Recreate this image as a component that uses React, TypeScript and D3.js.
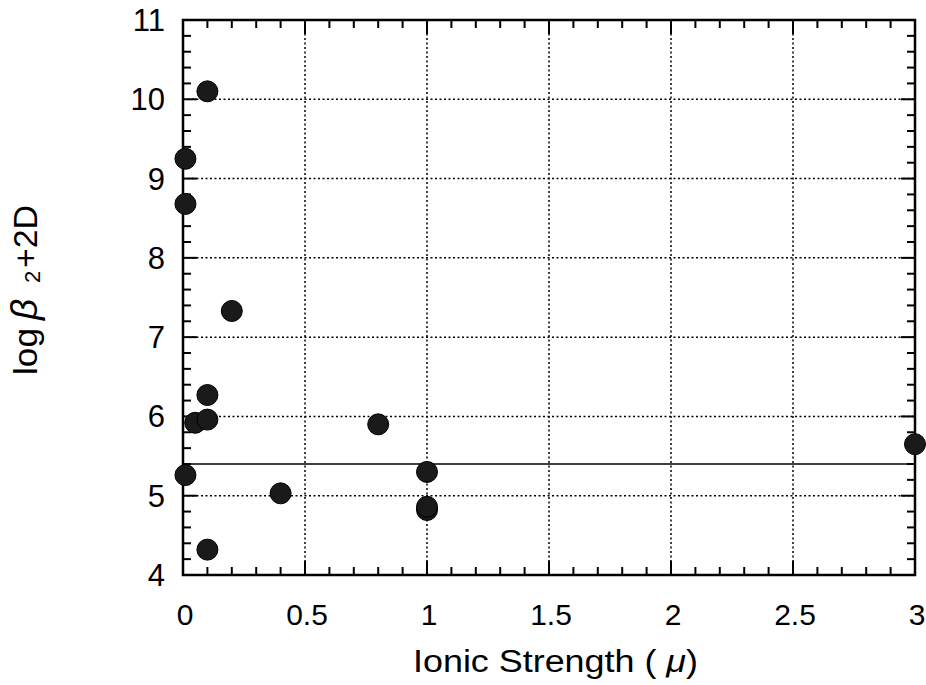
import React from "react";
import * as d3 from "d3";

const ionicStrength = [0.1, 0.01, 0.01, 0.2, 0.1, 0.05, 0.1, 0.8, 0.01, 0.4, 1.0, 1.0, 1.0, 0.1, 3.0];
const logBeta = [10.1, 9.25, 8.68, 7.33, 6.27, 5.92, 5.96, 5.9, 5.26, 5.03, 5.3, 4.82, 4.86, 4.32, 5.65];
const refLine = [5.4];
const xTicks = [0, 0.5, 1, 1.5, 2, 2.5, 3];
const yTicks = [4, 5, 6, 7, 8, 9, 10, 11];
const xTickLabels = ["0", "0.5", "1", "1.5", "2", "2.5", "3"];
const yTickLabels = ["4", "5", "6", "7", "8", "9", "10", "11"];

export default function App() {
  const W = 926, H = 685;
  const L = 183, R = 915, T = 20, B = 575;
  const x = d3.scaleLinear().domain([0, 3]).range([L, R]);
  const y = d3.scaleLinear().domain([4, 11]).range([B, T]);
  const xMinor = d3.range(0, 3.0001, 0.1);
  const yMinor = d3.range(4, 11.0001, 0.2);
  const font = "'Liberation Sans', Arial, Helvetica, sans-serif";
  const majorLen = 14, minorLen = 8;

  return (
    <svg width={W} height={H} style={{ position: "absolute", left: 0, top: 0, background: "#fff" }}>
      {/* grid */}
      {xTicks.slice(1, -1).map((t) => (
        <line key={"gx" + t} x1={x(t)} x2={x(t)} y1={T} y2={B} stroke="#000" strokeWidth={1.5} strokeDasharray="2,2.5" />
      ))}
      {yTicks.slice(1, -1).map((t) => (
        <line key={"gy" + t} x1={L} x2={R} y1={y(t)} y2={y(t)} stroke="#000" strokeWidth={1.5} strokeDasharray="2,2.5" />
      ))}
      {/* ticks */}
      {xMinor.map((t, i) => {
        const len = i % 5 === 0 ? majorLen : minorLen;
        return (
          <g key={"xm" + i}>
            <line x1={x(t)} x2={x(t)} y1={B} y2={B - len} stroke="#000" strokeWidth={2} />
            <line x1={x(t)} x2={x(t)} y1={T} y2={T + len} stroke="#000" strokeWidth={2} />
          </g>
        );
      })}
      {yMinor.map((t, i) => {
        const len = i % 5 === 0 ? majorLen : minorLen;
        return (
          <g key={"ym" + i}>
            <line x1={L} x2={L + len} y1={y(t)} y2={y(t)} stroke="#000" strokeWidth={2} />
            <line x1={R} x2={R - len} y1={y(t)} y2={y(t)} stroke="#000" strokeWidth={2} />
          </g>
        );
      })}
      {/* reference line */}
      {refLine.map((v) => (
        <line key="ref" x1={L} x2={R} y1={y(v)} y2={y(v)} stroke="#000" strokeWidth={1.6} />
      ))}
      {/* frame */}
      <rect x={L} y={T} width={R - L} height={B - T} fill="none" stroke="#000" strokeWidth={2.5} />
      {/* points */}
      {ionicStrength.map((v, i) => (
        <circle key={"p" + i} cx={x(v)} cy={y(logBeta[i])} r={10.5} fill="#1a1a1a" stroke="#000" strokeWidth={1} />
      ))}
      {/* tick labels */}
      {xTicks.map((t, i) => (
        <text key={"xl" + i} x={x(t) + 2} y={B + 50} textAnchor="middle" fontFamily={font} fontSize={30} fill="#000">
          {xTickLabels[i]}
        </text>
      ))}
      {yTicks.map((t, i) => (
        <text key={"yl" + i} x={165} y={y(t) + 11} textAnchor="end" fontFamily={font} fontSize={31} fill="#000">
          {yTickLabels[i]}
        </text>
      ))}
      {/* axis titles */}
      <text x={413} y={672} fontFamily={font} fontSize={31} fill="#000" textLength={285} lengthAdjust="spacingAndGlyphs">
        Ionic Strength ( <tspan fontStyle="italic">μ</tspan>)
      </text>
      <g transform="translate(37, 0) rotate(-90)">
        <text x={-375} y={0} fontFamily={font} fontSize={33} fill="#000" textLength={47} lengthAdjust="spacingAndGlyphs">log</text>
        <text x={-320} y={0} fontFamily={font} fontSize={37} fontStyle="italic" fill="#000">β</text>
        <text x={-283} y={3} fontFamily={font} fontSize={22} fill="#000">2</text>
        <text x={-268} y={0} fontFamily={font} fontSize={33} fill="#000" textLength={63} lengthAdjust="spacingAndGlyphs">+2D</text>
      </g>
    </svg>
  );
}
